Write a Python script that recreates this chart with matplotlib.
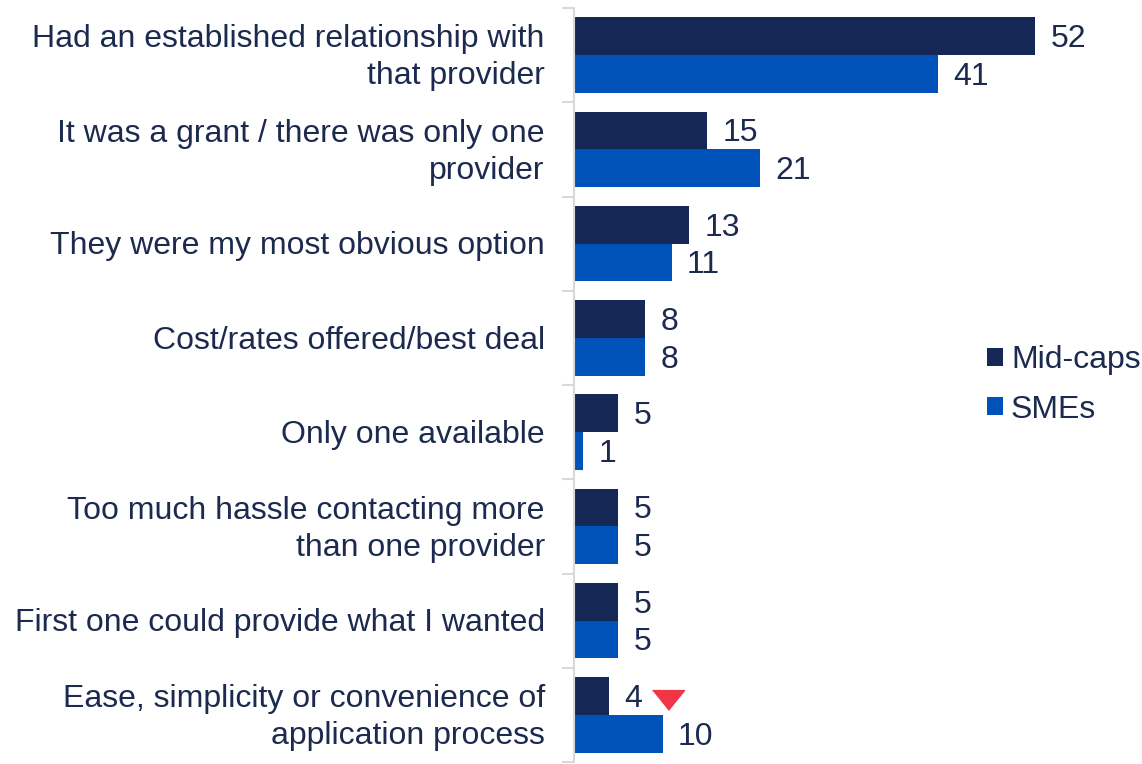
import matplotlib.pyplot as plt
from matplotlib.transforms import ScaledTranslation
import numpy as np

# Reasons for choosing the finance provider (% of respondents)
reasons = [
    "Had an established relationship with\nthat provider",
    "It was a grant / there was only one\nprovider",
    "They were my most obvious option",
    "Cost/rates offered/best deal",
    "Only one available",
    "Too much hassle contacting more\nthan one provider",
    "First one could provide what I wanted",
    "Ease, simplicity or convenience of\napplication process",
]
mid_caps = [52, 15, 13, 8, 5, 5, 5, 4]
smes = [41, 21, 11, 8, 1, 5, 5, 10]
# significantly lower than SMEs
mid_caps_sig_lower = [False, False, False, False, False, False, False, True]

MIDCAP_COLOR = "#152855"
SME_COLOR = "#0052b9"
TEXT_COLOR = "#1b2a4e"
SIG_COLOR = "#f23544"
FS = 23

plt.rcParams["font.family"] = ["Liberation Sans", "DejaVu Sans"]

fig = plt.figure(figsize=(11.42, 7.64), dpi=100)
ax = fig.add_axes([574 / 1142, 2 / 764, 496.5 / 1142, 754 / 764])

y = np.arange(len(reasons))
h = 0.4
ax.barh(y - h / 2, mid_caps, height=h, color=MIDCAP_COLOR, label="Mid-caps")
ax.barh(y + h / 2, smes, height=h, color=SME_COLOR, label="SMEs")

for yi, m, s in zip(y, mid_caps, smes):
    ax.annotate(str(m), (m, yi - h / 2), xytext=(11, -2), textcoords="offset points",
                va="center", ha="left", fontsize=FS, color=TEXT_COLOR)
    ax.annotate(str(s), (s, yi + h / 2), xytext=(11, -2), textcoords="offset points",
                va="center", ha="left", fontsize=FS, color=TEXT_COLOR)

# downward triangle next to the Mid-caps value where it is significantly lower
tri = [(-1, 0.62), (1, 0.62), (0, -0.62)]
shift = ax.transData + ScaledTranslation(0.585, -0.04, fig.dpi_scale_trans)
for yi, m, sig in zip(y, mid_caps, mid_caps_sig_lower):
    if sig:
        ax.plot([m], [yi - h / 2], marker=tri, markersize=23, color=SIG_COLOR,
                linestyle="none", transform=shift, clip_on=False)

# category labels, right-aligned against the axis
for yi, label in zip(y, reasons):
    ax.annotate(label, (0, yi), xycoords=("axes fraction", "data"),
                xytext=(-21, -2), textcoords="offset points",
                ha="right", va="center", fontsize=FS, color=TEXT_COLOR,
                linespacing=1.3, annotation_clip=False)

ax.set_xlim(0, 56)
ax.set_ylim(len(reasons) - 0.5, -0.5)
ax.set_yticks(np.arange(len(reasons) + 1) - 0.5)
ax.set_yticklabels([])
ax.tick_params(axis="y", length=9, width=1.5, color="#d9d9d9")
ax.set_xticks([])
for side in ("top", "right", "bottom"):
    ax.spines[side].set_visible(False)
ax.spines["left"].set_color("#d9d9d9")
ax.spines["left"].set_linewidth(1.5)

fig.legend(loc="center left", bbox_to_anchor=(987 / 1142, 1 - 385 / 764),
           frameon=False, fontsize=FS, handlelength=0.5, handleheight=0.5,
           handletextpad=0.25, labelspacing=0.6, labelcolor=TEXT_COLOR,
           borderaxespad=0, borderpad=0)

fig.savefig("out.png", dpi=100)
